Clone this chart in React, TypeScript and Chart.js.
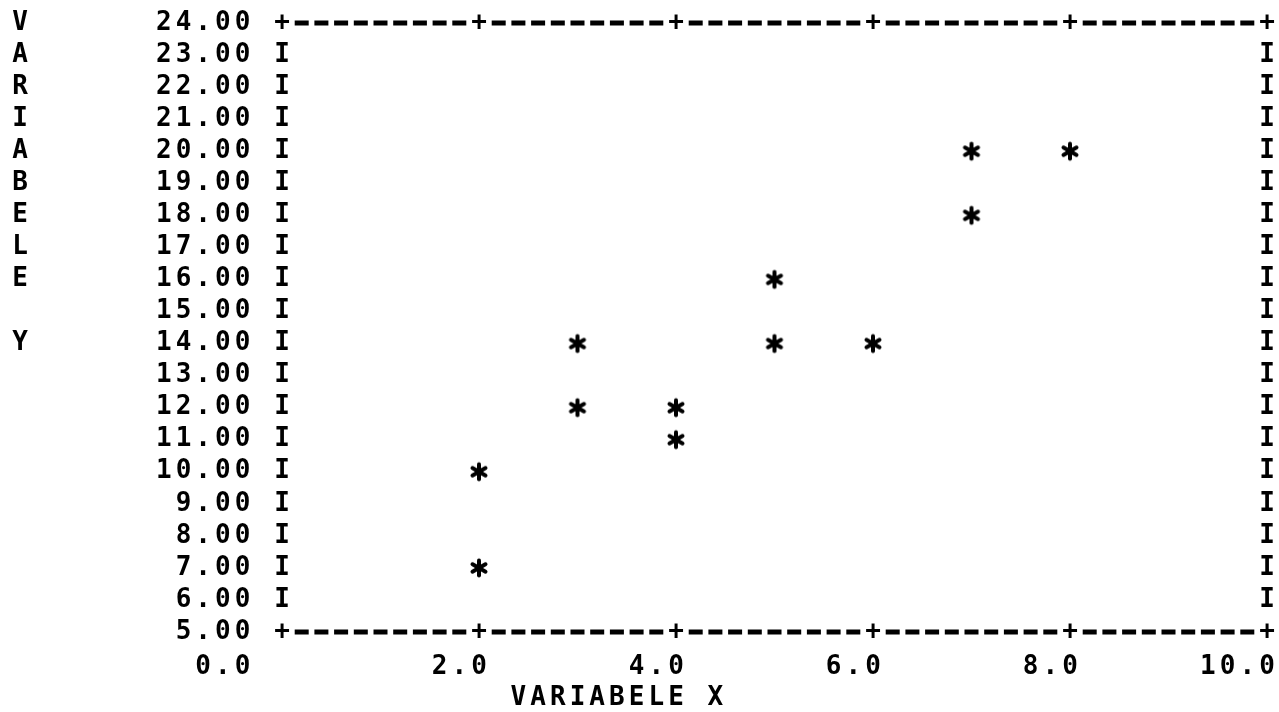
import React, { useEffect, useRef } from 'react';
import { Chart, registerables } from 'chart.js';

Chart.register(...registerables);

// ---- data ----
const xValues = [2, 2, 3, 3, 4, 4, 5, 5, 6, 7, 7, 8];
const yValues = [10, 7, 14, 12, 12, 11, 16, 14, 14, 20, 18, 20];

const yTickValues = [24, 23, 22, 21, 20, 19, 18, 17, 16, 15, 14, 13, 12, 11, 10, 9, 8, 7, 6, 5];
const yTickLabels = ['24.00', '23.00', '22.00', '21.00', '20.00', '19.00', '18.00', '17.00', '16.00', '15.00',
  '14.00', '13.00', '12.00', '11.00', '10.00', '9.00', '8.00', '7.00', '6.00', '5.00'];
const xTickValues = [0, 2, 4, 6, 8, 10];
const xTickLabels = ['0.0', '2.0', '4.0', '6.0', '8.0', '10.0'];
const xTitle = 'VARIABELE X';
const yTitle = 'VARIABELE Y';

const FONT = 'bold 26px "DejaVu Sans Mono", "Liberation Mono", monospace';

function makeStar(): HTMLCanvasElement {
  const c = document.createElement('canvas');
  c.width = 22;
  c.height = 22;
  const g = c.getContext('2d')!;
  g.strokeStyle = '#000';
  g.lineWidth = 4;
  g.lineCap = 'round';
  const r = 7.5;
  for (const deg of [90, 30, 150]) {
    const a = (deg * Math.PI) / 180;
    g.beginPath();
    g.moveTo(11 - r * Math.cos(a), 11 - r * Math.sin(a));
    g.lineTo(11 + r * Math.cos(a), 11 + r * Math.sin(a));
    g.stroke();
  }
  g.fillStyle = '#000';
  g.beginPath();
  g.arc(11, 11, 3.5, 0, Math.PI * 2);
  g.fill();
  return c;
}

const printerPlugin = {
  id: 'printerFrame',
  beforeDatasetsDraw(chart: any) {
    const ctx: CanvasRenderingContext2D = chart.ctx;
    const xs = chart.scales.x;
    const ys = chart.scales.y;
    const xL = xs.getPixelForValue(0);
    const xR = xs.getPixelForValue(10);
    const colW = (xR - xL) / 50;
    const rowH = ys.getPixelForValue(5) - ys.getPixelForValue(6);
    const yTop = ys.getPixelForValue(24);
    const yBot = ys.getPixelForValue(5);

    ctx.save();
    ctx.font = FONT;
    ctx.fillStyle = '#000';
    ctx.textAlign = 'center';
    ctx.textBaseline = 'middle';

    const drawStr = (s: string, x0: number, y: number) => {
      for (let i = 0; i < s.length; i++) {
        if (s[i] !== ' ') ctx.fillText(s[i], x0 + i * colW, y);
      }
    };

    // y tick labels and side borders
    yTickValues.forEach((v, i) => {
      const y = ys.getPixelForValue(v);
      const lab = yTickLabels[i];
      drawStr(lab, xL - 2 * colW - (lab.length - 1) * colW, y);
      if (v !== 24 && v !== 5) {
        ctx.fillText('I', xL, y);
        ctx.fillText('I', xR, y);
      }
    });

    // top & bottom frame rows
    for (const yy of [yTop, yBot]) {
      for (let c = 0; c <= 50; c++) {
        const val = c * 0.2;
        const x = xs.getPixelForValue(val);
        const isTick = xTickValues.some((t) => Math.abs(t - val) < 1e-6);
        if (isTick) ctx.fillText('+', x, yy);
        else ctx.fillRect(x - 7, yy - 2.5, 14, 5);
      }
    }

    // x tick labels
    xTickValues.forEach((v, i) => {
      const lab = xTickLabels[i];
      const shift = i === 0 ? 2 : 0;
      const xr = xs.getPixelForValue(v) - shift * colW;
      drawStr(lab, xr - (lab.length - 1) * colW, yBot + rowH + 3);
    });

    // x title
    drawStr(xTitle, xL + 12 * colW, yBot + 2 * rowH + 2);

    // y title (vertical, one letter per row)
    const xT = xL - 262;
    for (let i = 0; i < yTitle.length; i++) {
      const ch = yTitle[i];
      if (ch !== ' ') ctx.fillText(ch, xT, ys.getPixelForValue(yTickValues[i]));
    }
    ctx.restore();
  },
};

export default function App() {
  const ref = useRef<HTMLCanvasElement>(null);
  useEffect(() => {
    const star = makeStar();
    const chart = new Chart(ref.current!, {
      type: 'scatter',
      data: {
        datasets: [
          {
            data: xValues.map((x, i) => ({ x, y: yValues[i] })),
            pointStyle: star as any,
            pointRadius: 8,
            backgroundColor: '#000',
            borderColor: '#000',
          },
        ],
      },
      options: {
        animation: false,
        responsive: true,
        maintainAspectRatio: false,
        layout: { padding: { left: 282, right: 12, top: 23, bottom: 80 } },
        plugins: { legend: { display: false }, tooltip: { enabled: false } },
        scales: {
          x: { type: 'linear', min: 0, max: 10, display: false },
          y: { type: 'linear', min: 5, max: 24, display: false },
        },
      },
      plugins: [printerPlugin],
    });
    return () => chart.destroy();
  }, []);
  return (
    <div style={{ position: 'fixed', left: 0, top: 0, width: '1279px', height: '712px', background: '#fff' }}>
      <canvas ref={ref} />
    </div>
  );
}
